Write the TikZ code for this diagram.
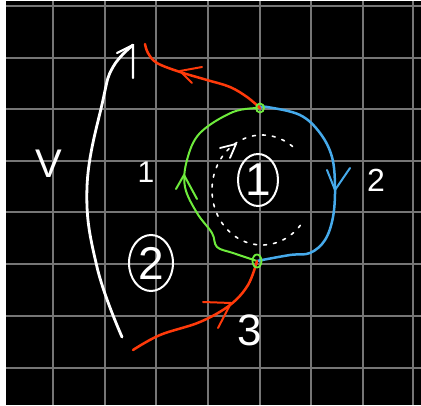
\documentclass[tikz,border=0pt]{standalone}
\usepackage{fontspec}
\setmainfont{Liberation Sans}
\usetikzlibrary{shapes.geometric}
\definecolor{gridgray}{RGB}{118,118,118}
\definecolor{lgreen}{RGB}{110,235,60}
\definecolor{lblue}{RGB}{70,170,235}
\definecolor{lred}{RGB}{255,58,10}
\tikzset{
  gridline/.style={gridgray, line width=1.2pt},
  greenline/.style={lgreen, line width=2pt, line cap=round, line join=round},
  blueline/.style={lblue, line width=2.5pt, line cap=round, line join=round},
  redline/.style={lred, line width=2.5pt, line cap=round, line join=round},
  whiteline/.style={white, line width=2.8pt, line cap=round, line join=round},
  junction/.style={draw=lgreen, line width=1.8pt, ellipse, inner sep=0pt},
  label/.style={white, inner sep=0pt},
}
\begin{document}
\begin{tikzpicture}[x=1pt,y=-1pt]
\useasboundingbox (0,0) rectangle (421,406);
\fill[white] (0,0) rectangle (421,406);
\fill[black] (6,1) rectangle (421,405);
\foreach \gx in {53,105,156,208,260,311,363,413} \draw[gridline] (\gx,1) -- (\gx,405);
\foreach \gy in {6,58,109,161,212,264,316,368} \draw[gridline] (6,\gy) -- (421,\gy);

% junction positions
\coordinate (A) at (260,108);
\coordinate (B) at (257,261);
\coordinate (redtop) at (145,44);
\coordinate (redbot) at (133,350);
\coordinate (vbot) at (122,337);
\coordinate (vtop) at (133,45);

% white V arc
\draw[whiteline] plot[smooth, tension=0.7] coordinates {(vbot) (97,267) (87,187) (103,100) (113,67) (vtop)};
\draw[whiteline, line width=2.2pt] (117,53) -- (vtop) -- (133,78);

% dashed circle
\draw[white, line width=1.6pt, dash pattern=on 3pt off 7pt, line cap=round]
  plot[domain=40:309, samples=80, smooth] ({262+50*cos(\x)},{190+55*sin(\x)});
\draw[white, line width=1.8pt, line cap=round, line join=round] (220,148) -- (236,144) -- (230,158);

% green arc
\draw[greenline] plot[smooth, tension=0.6] coordinates {(A) (233,112) (200,133) (187,160) (185,187) (197,213) (212,233) (217,247) (233,253) (B)};
\draw[greenline] (176,189) -- (184,175) -- (197,199);

% blue arc
\draw[blueline] plot[smooth, tension=0.6] coordinates {(A) (267,107) (300,115) (320,133) (332,157) (335,187) (333,217) (325,240) (310,253) (290,255) (B)};
\draw[blueline, line width=2pt] (327,170) -- (335,190) -- (350,168);

% red top
\draw[redline] plot[smooth, tension=0.6] coordinates {(A) (247,97) (230,87) (207,80) (180,72) (157,63) (148,53) (redtop)};
\draw[redline, line width=2pt] (202,67) -- (180,71) -- (192,83);

% red bottom
\draw[redline] plot[smooth, tension=0.6] coordinates {(redbot) (160,335) (200,322) (230,305) (248,285) (B)};
\draw[redline, line width=2pt] (203,302) -- (231,303) -- (218,328);

% junction markers
\node[junction, minimum width=8pt, minimum height=9pt] (ja) at (A) {};
\node[junction, minimum width=9pt, minimum height=13pt] (jb) at (B) {};

% labels
\node[label, font=\fontsize{40}{40}\selectfont] (lv) at (49,164) {V};
\node[label, font=\fontsize{30}{30}\selectfont] (l1) at (146,172) {1};
\node[label, font=\fontsize{32}{32}\selectfont] (l2) at (376,180) {2};
\node[label, font=\fontsize{44}{44}\selectfont] (l3) at (250,330) {3};
\node[label, font=\fontsize{46}{46}\selectfont] (c1) at (258,180) {1};
\draw[white, line width=2pt] (c1.center) ellipse [x radius=20, y radius=26];
\node[label, font=\fontsize{46}{46}\selectfont] (c2) at (151,263) {2};
\draw[white, line width=2pt] (c2.center) ellipse [x radius=22, y radius=28];
\end{tikzpicture}
\end{document}
